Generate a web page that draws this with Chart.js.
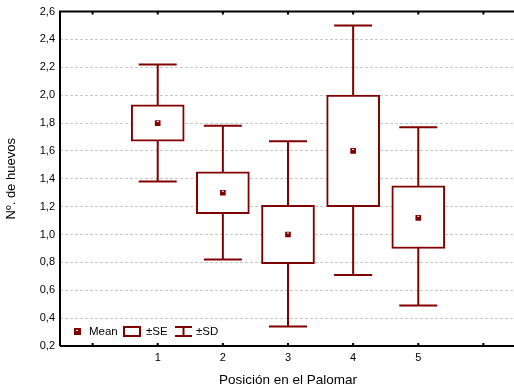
<!DOCTYPE html>
<html>
<head>
<meta charset="utf-8">
<script src="https://cdn.jsdelivr.net/npm/chart.js@4.4.0/dist/chart.umd.min.js"></script>
<style>
  html, body { margin: 0; padding: 0; background: #fff; overflow: hidden; }
  #wrap { width: 514px; height: 392px; overflow: hidden; }
</style>
</head>
<body>
<div id="wrap"><canvas id="myChart" width="520" height="392"></canvas></div>
<script>
// données
const positions = ['', '1', '2', '3', '4', '5', ''];
const means   = [null, 1.80, 1.30, 1.00, 1.60, 1.12, null];
const seLow   = [null, 1.67, 1.15, 0.79, 1.20, 0.90, null];
const seHigh  = [null, 1.93, 1.45, 1.21, 2.00, 1.35, null];
const sdLow   = [null, 1.38, 0.82, 0.34, 0.71, 0.49, null];
const sdHigh  = [null, 2.22, 1.78, 1.67, 2.50, 1.77, null];

const rouge = 'rgb(128,0,0)';

// boites SE en barres flottantes
const seBars = seLow.map((v, i) => v === null ? null : [v, seHigh[i]]);

// plugin : moustaches, cadre, légende
const boxPlugin = {
  id: 'boxPlugin',
  beforeDatasetsDraw(chart) {
    const ctx = chart.ctx;
    const x = chart.scales.x, y = chart.scales.y;
    ctx.save();
    ctx.strokeStyle = rouge;
    ctx.lineWidth = 2;
    for (let i = 0; i < positions.length; i++) {
      if (sdLow[i] === null) continue;
      const px = x.getPixelForValue(i);
      const yl = y.getPixelForValue(sdLow[i]);
      const yh = y.getPixelForValue(sdHigh[i]);
      ctx.beginPath();
      ctx.moveTo(px, yl); ctx.lineTo(px, yh);
      ctx.moveTo(px - 19, yl); ctx.lineTo(px + 19, yl);
      ctx.moveTo(px - 19, yh); ctx.lineTo(px + 19, yh);
      ctx.stroke();
    }
    ctx.restore();
  },
  afterDatasetsDraw(chart) {
    const ctx = chart.ctx;
    const a = chart.chartArea;
    const x = chart.scales.x, y = chart.scales.y;
    ctx.save();
    // petit trait blanc dans les moyennes
    ctx.fillStyle = '#fff';
    for (let i = 0; i < positions.length; i++) {
      if (means[i] === null) continue;
      const px = x.getPixelForValue(i);
      const py = y.getPixelForValue(means[i]);
      ctx.fillRect(px - 1, py - 2, 2, 1);
    }
    // cadre
    ctx.strokeStyle = '#000';
    ctx.lineWidth = 2;
    ctx.beginPath();
    ctx.moveTo(a.left, a.bottom);
    ctx.lineTo(a.left, a.top);
    ctx.lineTo(a.right + 2, a.top);
    ctx.moveTo(a.left, a.bottom);
    ctx.lineTo(a.right + 2, a.bottom);
    ctx.stroke();
    // petites graduations vers l'intérieur
    ctx.beginPath();
    for (let i = 0; i < positions.length; i++) {
      const px = x.getPixelForValue(i);
      ctx.moveTo(px, a.top); ctx.lineTo(px, a.top + 3);
      ctx.moveTo(px, a.bottom); ctx.lineTo(px, a.bottom - 3);
    }
    ctx.stroke();
    // légende
    const ly = 331;
    ctx.fillStyle = rouge;
    ctx.fillRect(74, ly - 3, 7, 7);
    ctx.fillStyle = '#fff';
    ctx.fillRect(76, ly - 1, 2, 1);
    ctx.fillStyle = '#000';
    ctx.font = '11.5px "Liberation Sans", Arial, sans-serif';
    ctx.textBaseline = 'middle';
    ctx.fillText('Mean', 89, ly + 1);
    ctx.strokeStyle = rouge;
    ctx.lineWidth = 2;
    ctx.strokeRect(124, ly - 4, 16, 9);
    ctx.fillText('±SE', 146, ly + 1);
    ctx.beginPath();
    ctx.moveTo(175, ly - 4); ctx.lineTo(192, ly - 4);
    ctx.moveTo(175, ly + 5); ctx.lineTo(192, ly + 5);
    ctx.moveTo(183.5, ly - 4); ctx.lineTo(183.5, ly + 5);
    ctx.stroke();
    ctx.fillText('±SD', 196, ly + 1);
    ctx.restore();
  }
};

const police = '"Liberation Sans", Arial, sans-serif';

const data = {
  labels: positions,
  datasets: [
    {
      type: 'line',
      label: 'Mean',
      data: means,
      showLine: false,
      pointStyle: 'rect',
      pointRadius: 4,
      backgroundColor: rouge,
      borderColor: rouge,
      borderWidth: 0,
      order: 0
    },
    {
      type: 'bar',
      label: '±SE',
      data: seBars,
      backgroundColor: '#fff',
      borderColor: rouge,
      borderWidth: 2,
      borderSkipped: false,
      barThickness: 53,
      order: 1
    }
  ]
};

const config = {
  type: 'bar',
  data: data,
  plugins: [boxPlugin],
  options: {
    responsive: false,
    animation: false,
    layout: { padding: { top: 11, right: 0, left: 0, bottom: 0 } },
    plugins: {
      legend: { display: false },
      tooltip: { enabled: false }
    },
    scales: {
      x: {
        offset: true,
        grid: { display: false, drawTicks: false, offset: true },
        border: { display: false },
        ticks: { color: '#000', font: { family: police, size: 11 }, padding: 5, maxRotation: 0 },
        title: { display: true, text: 'Posición en el Palomar', color: '#000', font: { family: police, size: 13.5 }, padding: { top: 8 } },
        afterFit(scale) { scale.height = 46; }
      },
      y: {
        min: 0.2,
        max: 2.6,
        grid: { color: '#c8c8c8', borderDash: [3, 2], drawTicks: false, lineWidth: 1 },
        border: { display: false, dash: [3, 2] },
        ticks: {
          stepSize: 0.2,
          color: '#000',
          font: { family: police, size: 11 },
          padding: 5,
          callback: v => v.toFixed(1).replace('.', ',')
        },
        title: { display: true, text: 'Nº. de huevos', color: '#000', font: { family: police, size: 13 } },
        afterFit(scale) { scale.width = 60; }
      }
    }
  }
};

const myChart = new Chart(document.getElementById('myChart').getContext('2d'), config);
</script>
</body>
</html>
